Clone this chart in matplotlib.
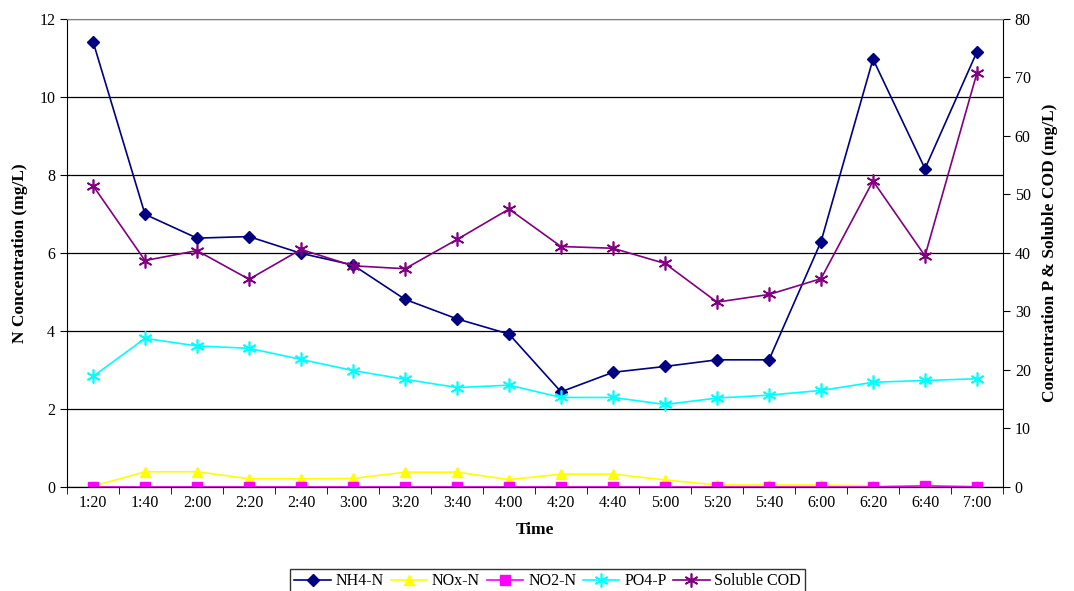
import matplotlib.pyplot as plt

plt.rcParams['font.family'] = ['Liberation Serif', 'DejaVu Serif']

times = ['1:20', '1:40', '2:00', '2:20', '2:40', '3:00', '3:20', '3:40', '4:00',
         '4:20', '4:40', '5:00', '5:20', '5:40', '6:00', '6:20', '6:40', '7:00']

# N species, left axis (mg/L)
nh4_n = [11.42, 6.99, 6.38, 6.42, 5.99, 5.69, 4.81, 4.31, 3.92,
         2.44, 2.94, 3.09, 3.26, 3.26, 6.29, 10.97, 8.16, 11.16]
nox_n = [0.02, 0.39, 0.39, 0.21, 0.21, 0.22, 0.38, 0.38, 0.19,
         0.33, 0.33, 0.18, 0.05, 0.05, 0.05, 0.03, 0.03, 0.03]
no2_n = [0.0, 0.0, 0.0, 0.0, 0.0, 0.0, 0.0, 0.0, 0.0,
         0.0, 0.0, 0.0, 0.0, 0.0, 0.0, 0.0, 0.03, 0.0]

# right axis (mg/L)
po4_p = [18.9, 25.4, 24.1, 23.7, 21.8, 19.9, 18.4, 17.0, 17.4,
         15.3, 15.3, 14.1, 15.2, 15.7, 16.5, 17.9, 18.2, 18.5]
sol_cod = [51.5, 38.7, 40.4, 35.5, 40.6, 37.8, 37.3, 42.3, 47.5,
           41.1, 40.8, 38.2, 31.6, 32.9, 35.6, 52.3, 39.5, 70.8]

x = list(range(len(times)))
asterisk = (6, 2, 0)

fig = plt.figure(figsize=(10.74, 5.91), dpi=100)
ax = fig.add_axes([0.0624, 0.176, 0.8715, 0.792])
ax2 = ax.twinx()

l1, = ax.plot(x, nh4_n, color='#000080', marker='D', markersize=6, lw=1.2, label='NH4-N')
l2, = ax.plot(x, nox_n, color='#FFFF00', marker='^', markersize=7, lw=1.2, label='NOx-N')
l3, = ax.plot(x, no2_n, color='#FF00FF', marker='s', markersize=7, lw=1.2, label='NO2-N')
l4, = ax2.plot(x, po4_p, color='#00FFFF', marker=asterisk, markersize=10, mew=1.2, lw=1.2, label='PO4-P')
l5, = ax2.plot(x, sol_cod, color='#800080', marker=asterisk, markersize=10, mew=1.2, lw=1.2, label='Soluble COD')

ax.set_xlim(-0.5, len(times) - 0.5)
ax.set_ylim(0, 12)
ax2.set_ylim(0, 80)
ax.set_yticks(range(0, 13, 2))
ax2.set_yticks(range(0, 81, 10))
ax.set_xticks(x)
ax.set_xticklabels(times)
ax.set_xticks([i - 0.5 for i in range(len(times) + 1)], minor=True)
ax.tick_params(axis='x', which='major', length=0, labelsize=11.5, pad=6)
ax.tick_params(axis='x', which='minor', length=5, direction='out')
ax.tick_params(axis='y', labelsize=11.5, length=5, direction='out')
ax2.tick_params(axis='y', labelsize=11.5, length=5, direction='out')

ax.yaxis.grid(True, color='black', lw=0.9)
ax.set_axisbelow(True)
for s in ['top', 'right']:
    ax.spines[s].set_visible(False)
ax2.spines['left'].set_visible(False)
ax2.spines['top'].set_color('#808080')

ax.set_xlabel('Time', fontsize=12.5, fontweight='bold', labelpad=8)
ax.set_ylabel('N Concentration (mg/L)', fontsize=12.5, fontweight='bold', labelpad=8)
ax2.set_ylabel('Concentration P & Soluble COD (mg/L)', fontsize=12.5, fontweight='bold', labelpad=8)

fig.legend(handles=[l1, l2, l3, l4, l5], loc='lower center', ncol=5,
           bbox_to_anchor=(0.51, -0.012), fontsize=11.5, frameon=True, fancybox=False,
           edgecolor='black', handlelength=2.3, handletextpad=0.3, columnspacing=0.4,
           borderpad=0.25, borderaxespad=0.3)

fig.savefig('out.png', dpi=100)
